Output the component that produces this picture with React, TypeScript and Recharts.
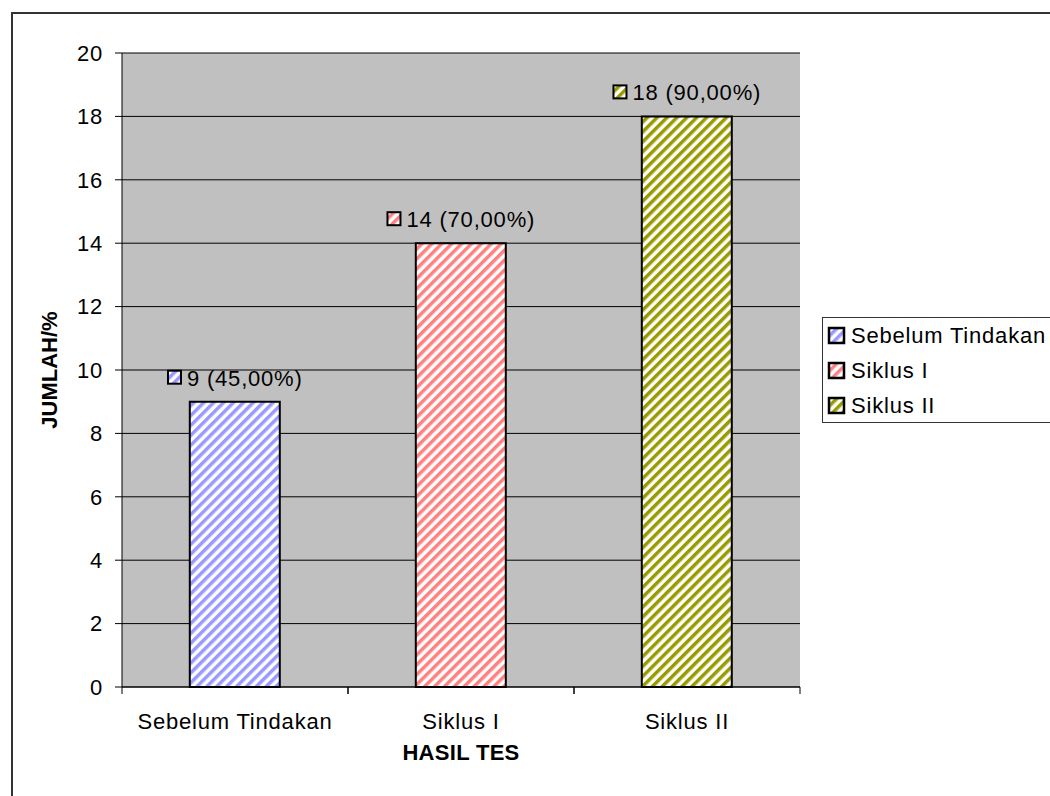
import React from 'react';
import { BarChart, Bar, XAxis, YAxis, CartesianGrid, Cell, LabelList } from 'recharts';

const categories = ['Sebelum Tindakan', 'Siklus I', 'Siklus II'];
const counts = [9, 14, 18];
const percentLabels = ['45,00%', '70,00%', '90,00%'];
const stripeColors = ['#9999FF', '#FF8080', '#999900'];
const yTicks = [0, 2, 4, 6, 8, 10, 12, 14, 16, 18, 20];

const FONT = '"Liberation Sans", Arial, sans-serif';
const SPACING = 0.8;

const data = categories.map((name, i) => ({
  name,
  value: counts[i],
  label: `${counts[i]} (${percentLabels[i]})`,
}));

let measureCtx: CanvasRenderingContext2D | null = null;
const textWidth = (s: string, size: number) => {
  if (!measureCtx) measureCtx = document.createElement('canvas').getContext('2d');
  if (!measureCtx) return s.length * size * 0.55;
  measureCtx.font = `${size}px ${FONT}`;
  return measureCtx.measureText(s).width + s.length * SPACING;
};

// x-axis: label at the band centre, tick marks at the band edges (Excel style)
const CategoryTick = (props: any) => {
  const { x, y, payload } = props;
  const half = payload.offset ?? 113;
  return (
    <g>
      <line x1={x - half} x2={x - half} y1={y} y2={y + 7} stroke="#000" />
      <line x1={x + half} x2={x + half} y1={y} y2={y + 7} stroke="#000" />
      <text
        x={x}
        y={y + 42}
        textAnchor="middle"
        fontSize={22}
        fontFamily={FONT}
        letterSpacing={SPACING}
        fill="#000"
      >
        {payload.value}
      </text>
    </g>
  );
};

const BarLabel = (props: any) => {
  const { x, y, width, value, index } = props;
  const size = 22;
  const key = 15;
  const gap = 5;
  const total = key + gap + textWidth(String(value), size);
  const left = x + width / 2 - total / 2;
  const base = y - 16;
  return (
    <g>
      <rect
        x={left + 1}
        y={base - 15}
        width={key - 2}
        height={key - 2}
        fill={`url(#stripe-${index})`}
        stroke="#000"
        strokeWidth={2}
      />
      <text x={left + key + gap} y={base} fontSize={size} fontFamily={FONT} letterSpacing={SPACING} fill="#000">
        {value}
      </text>
    </g>
  );
};

export default function App() {
  return (
    <div style={{ position: 'absolute', left: 0, top: 0, width: 1050, height: 796, overflow: 'hidden', background: '#fff' }}>
      <div
        style={{
          position: 'absolute',
          left: 11,
          top: 12,
          width: 1100,
          height: 900,
          border: '2px solid #333',
        }}
      />
      <div style={{ position: 'absolute', left: 0, top: 0 }}>
        <BarChart
          width={1050}
          height={796}
          data={data}
          margin={{ top: 53, right: 250, left: 12, bottom: 19 }}
          barCategoryGap="30%"
        >
          <defs>
            {stripeColors.map((c, i) => (
              <pattern
                key={c}
                id={`stripe-${i}`}
                width={7}
                height={7}
                patternUnits="userSpaceOnUse"
                patternTransform="rotate(45)"
              >
                <rect width={7} height={7} fill="#fff" />
                <rect width={3.5} height={7} fill={c} />
              </pattern>
            ))}
          </defs>
          <CartesianGrid vertical={false} fill="#C0C0C0" stroke="#000" />
          <XAxis
            dataKey="name"
            height={90}
            axisLine={{ stroke: '#000', strokeWidth: 1 }}
            tickLine={false}
            tickSize={0}
            tickMargin={0}
            tick={<CategoryTick />}
            interval={0}
            label={{
              value: 'HASIL TES',
              position: 'insideBottom',
              offset: 17,
              style: { fontSize: 22, fontWeight: 'bold', fontFamily: FONT, fill: '#000', letterSpacing: 0.3 },
            }}
          />
          <YAxis
            width={110}
            domain={[0, 20]}
            ticks={yTicks}
            interval={0}
            axisLine={{ stroke: '#000' }}
            tickLine={{ stroke: '#000' }}
            tickSize={7}
            tickMargin={12}
            tick={{ fontSize: 22, fontFamily: FONT, fill: '#000', letterSpacing: SPACING }}
            label={{
              value: 'JUMLAH/%',
              angle: -90,
              position: 'insideLeft',
              offset: 37,
              style: { fontSize: 22, fontWeight: 'bold', fontFamily: FONT, fill: '#000', textAnchor: 'middle' },
            }}
          />
          <YAxis
            yAxisId="frame"
            orientation="right"
            width={0}
            domain={[0, 20]}
            tick={false}
            tickLine={false}
            axisLine={{ stroke: '#808080', strokeWidth: 2 }}
          />
          <Bar dataKey="value" stroke="#000" strokeWidth={2} isAnimationActive={false}>
            {data.map((d, i) => (
              <Cell key={d.name} fill={`url(#stripe-${i})`} />
            ))}
            <LabelList dataKey="label" content={<BarLabel />} />
          </Bar>
        </BarChart>
      </div>
      <div
        style={{
          position: 'absolute',
          left: 822,
          top: 317,
          width: 260,
          height: 104,
          border: '1px solid #333',
          background: '#fff',
          fontFamily: FONT,
          fontSize: 22,
          letterSpacing: SPACING,
          color: '#000',
        }}
      >
        {categories.map((c, i) => (
          <div
            key={c}
            style={{
              position: 'absolute',
              left: 4,
              top: 5 + i * 35,
              height: 26,
              display: 'flex',
              alignItems: 'center',
              whiteSpace: 'nowrap',
            }}
          >
            <svg width={20} height={20} style={{ marginRight: 4 }}>
              <rect x={2} y={2} width={15} height={15} fill={`url(#stripe-${i})`} stroke="#000" strokeWidth={2.5} />
            </svg>
            <span>{c}</span>
          </div>
        ))}
      </div>
    </div>
  );
}
